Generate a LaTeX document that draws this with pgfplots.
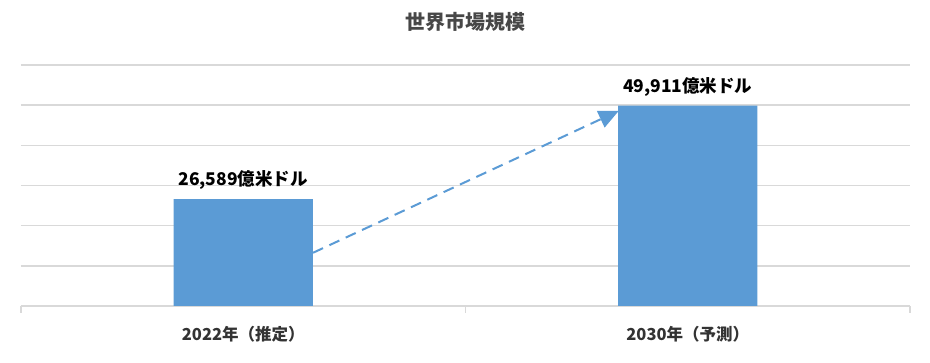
\documentclass[border=0pt]{standalone}
\usepackage{fontspec}
\setmainfont{Noto Sans CJK JP}
\usepackage{pgfplots}
\pgfplotsset{compat=1.18}
\definecolor{barblue}{HTML}{5B9BD5}
\definecolor{gridgray}{HTML}{D9D9D9}
\definecolor{txtgray}{HTML}{333333}
\usetikzlibrary{arrows.meta}
\begin{document}
\begin{tikzpicture}[x=1pt,y=1pt]
\path[use as bounding box] (0,0) rectangle (930,363);
\node[font=\fontsize{20}{22}\selectfont\bfseries, text=txtgray!90] at (465,341) {世界市場規模};
\begin{axis}[
  at={(21pt,57pt)}, anchor=south west,
  scale only axis, width=889pt, height=241pt,
  xmin=-0.5, xmax=1.5, ymin=0, ymax=60000,
  axis lines*=left,
  y axis line style={draw=none},
  x axis line style={draw=gridgray, line width=1.4pt},
  ytick={0,10000,...,60000},
  yticklabels={},
  scaled y ticks=false,
  major y tick style={draw=none},
  ymajorgrids, grid style={draw=gridgray, line width=1.4pt},
  xtick={0,1},
  xticklabels={2022年（推定）, 2030年（予測）},
  major x tick style={draw=none},
  x tick label style={font=\fontsize{16.5}{18}\selectfont\bfseries, text=txtgray, yshift=-12pt},
  extra x ticks={-0.5,0.5,1.5},
  extra x tick labels={},
  extra x tick style={major x tick style={draw=gridgray, line width=1.4pt}, major tick length=7pt, xtick align=outside},
  ybar, bar width=0.313,
  bar shift=0pt,
  nodes near coords,
  point meta=explicit symbolic,
  every node near coord/.append style={font=\fontsize{17.5}{19}\selectfont\bfseries, text=black, yshift=6pt},
  clip=false,
]
\addplot[fill=barblue, draw=none] coordinates {(0,26589) [26,589億米ドル] (1,49911) [49,911億米ドル]};
\draw[barblue, line width=2pt, dash pattern=on 11pt off 7pt, -{Triangle[length=20pt,width=18pt]}] (axis cs:0.157,13250) -- (axis cs:0.845,48600);
\end{axis}
\end{tikzpicture}
\end{document}
